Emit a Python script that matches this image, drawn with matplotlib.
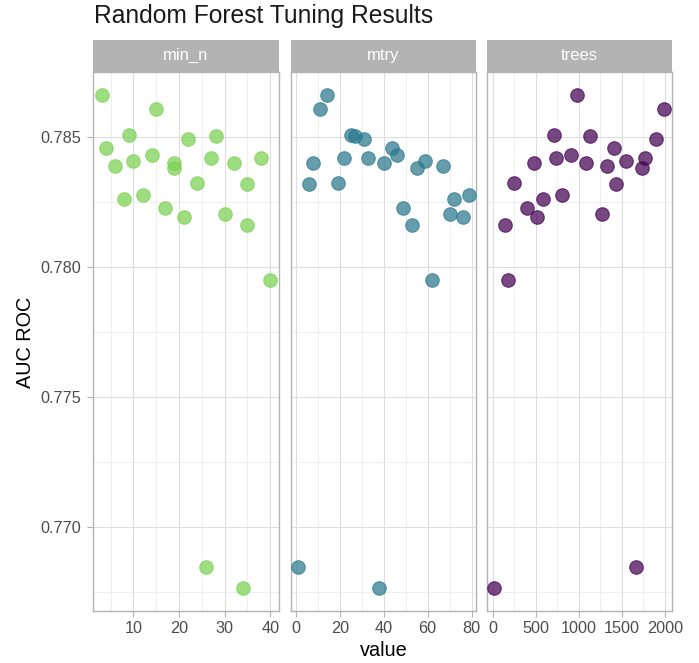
"""
Random forest tuning results, one facet per hyperparameter
"""

import matplotlib
matplotlib.use("Agg")
import matplotlib.pyplot as plt

plt.rcParams['font.family'] = ['Liberation Sans', 'DejaVu Sans']

# mean AUC ROC of the 25 candidates and the hyperparameters of each
auc = [0.78659, 0.78607, 0.78507, 0.78503, 0.78491, 0.78459, 0.78430, 0.78419,
       0.78419, 0.78408, 0.78401, 0.78401, 0.78389, 0.78380, 0.78322, 0.78319,
       0.78277, 0.78263, 0.78226, 0.78203, 0.78193, 0.78161, 0.77951, 0.76848,
       0.76765]
min_n = [3, 15, 9, 28, 22, 4, 14, 27, 38, 10, 19, 32, 6, 19, 24, 35,
         12, 8, 17, 30, 21, 35, 40, 26, 34]
mtry = [14, 11, 25, 27, 31, 44, 46, 22, 33, 59, 8, 40, 67, 55, 19, 6,
        79, 72, 49, 70, 76, 53, 62, 1, 38]
trees = [984, 1992, 713, 1131, 1895, 1407, 907, 736, 1771, 1547, 477, 1085,
         1333, 1736, 251, 1437, 806, 581, 399, 1271, 519, 143, 181, 1670, 19]

params = ["min_n", "mtry", "trees"]
values = [min_n, mtry, trees]
colors = ["#7AD151", "#2A788E", "#440154"]
xticks = [[10, 20, 30, 40], [0, 20, 40, 60, 80], [0, 500, 1000, 1500, 2000]]
xminor = [[5, 15, 25, 35], [10, 30, 50, 70], [250, 750, 1250, 1750]]
xlims = [(1.2, 41.9), (-2.3, 82.2), (-70, 2088)]
yticks = [0.770, 0.775, 0.780, 0.785]
yminor = [0.7675, 0.7725, 0.7775, 0.7825]

W, H = 699, 663
fig = plt.figure(figsize=(W / 100, H / 100), dpi=100)

lefts = [93.3, 290.8, 486.7]
pw = 185.6
p_top, p_bot = 72.3, 610.7
s_top = 39.5

for i in range(3):
    ax = fig.add_axes([lefts[i] / W, 1 - p_bot / H, pw / W, (p_bot - p_top) / H])
    ax.scatter(values[i], auc, s=95, color=colors[i], alpha=0.72,
               edgecolors=colors[i], linewidths=0.8, zorder=3)
    ax.set_xlim(*xlims[i])
    ax.set_ylim(0.76679, 0.78748)
    ax.set_xticks(xticks[i])
    ax.set_xticks(xminor[i], minor=True)
    ax.set_yticks(yticks)
    ax.set_yticks(yminor, minor=True)
    ax.grid(True, which='major', color='#DEDEDE', linewidth=0.8)
    ax.grid(True, which='minor', color='#E9E9E9', linewidth=0.5)
    ax.set_axisbelow(True)
    for sp in ax.spines.values():
        sp.set_color('#B3B3B3')
        sp.set_linewidth(1.0)
    ax.tick_params(which='minor', length=0)
    ax.tick_params(which='major', color='#B3B3B3', length=4.5, width=0.8,
                   labelsize=11.7, labelcolor='#4D4D4D', pad=3)
    if i == 0:
        ax.set_yticklabels(["0.770", "0.775", "0.780", "0.785"])
        ax.tick_params(axis='y', pad=4)
    else:
        ax.tick_params(axis='y', left=False, labelleft=False)

    # facet strip
    st = fig.add_axes([lefts[i] / W, 1 - p_top / H, pw / W, (p_top - s_top) / H])
    st.set_facecolor('#B3B3B3')
    st.set_xticks([])
    st.set_yticks([])
    for sp in st.spines.values():
        sp.set_visible(False)
    st.text(0.5, 0.5, params[i], ha='center', va='center', color='white',
            fontsize=12, transform=st.transAxes)

fig.text(94 / W, 1 - 16 / H, "Random Forest Tuning Results", fontsize=17.7,
         ha='left', va='center', color='#1A1A1A')
fig.text(26 / W, 1 - 342 / H, "AUC ROC", fontsize=14.3, rotation=90,
         ha='center', va='center')
fig.text(384 / W, 1 - 650 / H, "value", fontsize=14.3, ha='center', va='center')

fig.savefig("out.png", dpi=100)
